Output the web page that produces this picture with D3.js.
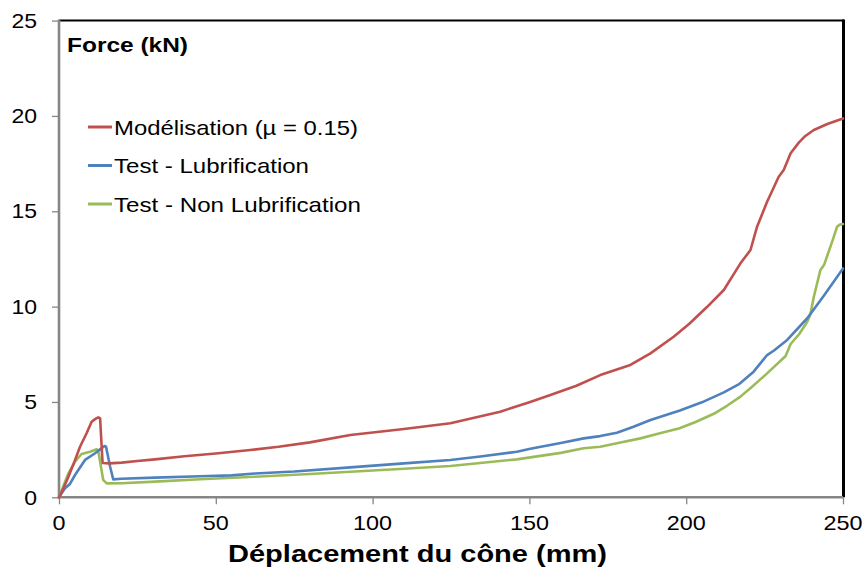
<!DOCTYPE html>
<html>
<head>
<meta charset="utf-8">
<script src="https://cdn.jsdelivr.net/npm/d3@7"></script>
<style>
  html, body { margin: 0; padding: 0; background: #fff; }
  svg { display: block; }
</style>
</head>
<body>
<svg id="chart" width="866" height="571"></svg>
<script>
// ---- Data ----
const seriesNames = ["Modélisation (µ = 0.15)", "Test - Lubrification", "Test - Non Lubrification"];
const seriesColors = ["#C0504D", "#4F81BD", "#9BBB59"];

const modelX = [0, 1.5, 3, 5, 6.7, 8.8, 10.4, 11.5, 12.5, 13.1, 13.9, 16, 20, 25, 30.6, 40, 50, 61, 70, 80, 92.9, 110, 124.8, 140.7, 150, 156.7, 165, 172.6, 182.2, 188.6, 196, 201, 206.7, 212, 217.3, 220.5, 222.6, 225.8, 229.5, 231.1, 233.3, 235.9, 238, 240.7, 245, 250];
const modelY = [0, 0.5, 1.08, 1.9, 2.65, 3.36, 3.96, 4.1, 4.19, 4.15, 1.8, 1.78, 1.82, 1.9, 1.99, 2.15, 2.3, 2.48, 2.65, 2.88, 3.27, 3.58, 3.88, 4.49, 4.99, 5.36, 5.85, 6.41, 6.94, 7.55, 8.42, 9.1, 9.99, 10.87, 12.27, 12.97, 14.19, 15.5, 16.81, 17.16, 18.04, 18.6, 18.95, 19.26, 19.58, 19.87];

const lubX = [0, 1.9, 3.5, 5.1, 8.3, 11.5, 13, 14.5, 15, 16.3, 17.3, 20, 30.6, 45, 55, 62.5, 75, 92.9, 110, 124.8, 135, 146, 150.3, 160, 167.3, 172.6, 177.9, 183.2, 188.6, 198, 205, 212, 217, 221.5, 225.8, 228, 232.2, 238.6, 244, 250];
const lubY = [0, 0.47, 0.7, 1.17, 1.96, 2.31, 2.5, 2.69, 2.65, 1.6, 0.94, 0.97, 1.03, 1.1, 1.15, 1.25, 1.35, 1.57, 1.78, 1.96, 2.15, 2.39, 2.55, 2.85, 3.09, 3.21, 3.39, 3.7, 4.05, 4.55, 4.98, 5.5, 5.95, 6.59, 7.46, 7.7, 8.25, 9.39, 10.6, 12.0];

const nonLubX = [0, 3, 5.1, 7.2, 9.9, 12, 12.5, 14.1, 15.2, 20, 30.6, 45, 62.5, 80, 92.9, 110, 124.8, 146, 160, 167.3, 172.6, 177.9, 185.4, 191, 197.9, 203, 208.8, 213, 217.3, 221, 225.8, 231.7, 233.3, 236, 238.6, 239.6, 240.7, 242.8, 244, 246.9, 248.1, 249, 250];
const nonLubY = [0, 1.26, 1.87, 2.27, 2.39, 2.52, 2.45, 0.91, 0.73, 0.74, 0.82, 0.95, 1.08, 1.22, 1.34, 1.5, 1.64, 1.99, 2.33, 2.57, 2.65, 2.83, 3.09, 3.33, 3.62, 3.95, 4.38, 4.8, 5.28, 5.8, 6.5, 7.41, 8.04, 8.55, 9.21, 9.6, 10.52, 11.92, 12.2, 13.58, 14.19, 14.3, 14.33];

const xTicks = [0, 50, 100, 150, 200, 250];
const yTicks = [0, 5, 10, 15, 20, 25];

const xTitle = "Déplacement du cône (mm)";
const yTitle = "Force (kN)";

// ---- Layout ----
const FONT = "'Liberation Sans', Arimo, Arial, sans-serif";
const svg = d3.select("#chart");
const plot = { left: 59, right: 843, top: 20.6, bottom: 497.3 };

const x = d3.scaleLinear().domain([0, 250]).range([plot.left, plot.right]);
const y = d3.scaleLinear().domain([0, 25]).range([plot.bottom, plot.top]);

function addText(g, tx, ty, str, opts) {
  const t = g.append("g").attr("transform", `translate(${tx},${ty}) scale(${opts.sx || 1},1)`)
    .append("text")
    .attr("x", 0).attr("y", 0)
    .attr("text-anchor", opts.anchor || "start")
    .attr("font-family", FONT)
    .style("font-family", FONT)
    .attr("font-size", opts.size)
    .attr("font-weight", opts.weight || "normal")
    .attr("fill", "#000")
    .text(str);
  if (opts.len) t.attr("textLength", opts.len).attr("lengthAdjust", "spacingAndGlyphs");
  return t;
}

// Plot area border (top and right in black)
svg.append("line").attr("x1", plot.left).attr("x2", plot.right + 1).attr("y1", plot.top).attr("y2", plot.top)
  .attr("stroke", "#000").attr("stroke-width", 2);
svg.append("line").attr("x1", plot.right + 0.5).attr("x2", plot.right + 0.5).attr("y1", plot.top - 1).attr("y2", plot.bottom)
  .attr("stroke", "#000").attr("stroke-width", 3);

// Axes
const xAxis = d3.axisBottom(x).tickValues(xTicks).tickSize(7).tickFormat("");
const yAxis = d3.axisLeft(y).tickValues(yTicks).tickSize(7).tickFormat("");

const gx = svg.append("g").attr("transform", `translate(0,${plot.bottom})`).call(xAxis);
const gy = svg.append("g").attr("transform", `translate(${plot.left},0)`).call(yAxis);
[gx, gy].forEach(g => {
  g.select(".domain").attr("stroke", "#868686").attr("stroke-width", 2.6);
  g.selectAll(".tick line").attr("stroke", "#868686").attr("stroke-width", 1.3);
});
gy.select(".domain").attr("d", `M0,${plot.top - 1}V${plot.bottom + 1}`);
gx.select(".domain").attr("d", `M${plot.left - 1},0H${plot.right}`);

// Tick labels
const labels = svg.append("g");
xTicks.forEach(v => addText(labels, x(v), 530, String(v), { anchor: "middle", size: 20, sx: 1.17 }));
yTicks.forEach(v => addText(labels, 37, y(v) + 7.2, String(v), { anchor: "end", size: 20, sx: 1.15 }));

// Titles
addText(svg, 228, 562, xTitle, { anchor: "start", size: 24, weight: "bold", len: 379 });
addText(svg, 67, 52, yTitle, { anchor: "start", size: 21, weight: "bold", len: 121 });

// Series
const series = [
  { name: seriesNames[0], color: seriesColors[0], xs: modelX, ys: modelY },
  { name: seriesNames[1], color: seriesColors[1], xs: lubX, ys: lubY },
  { name: seriesNames[2], color: seriesColors[2], xs: nonLubX, ys: nonLubY }
];

const line = d3.line().x(d => x(d[0])).y(d => y(d[1]));
const drawOrder = [2, 1, 0];
drawOrder.forEach(i => {
  const s = series[i];
  svg.append("path")
    .datum(d3.zip(s.xs, s.ys))
    .attr("d", line)
    .attr("fill", "none")
    .attr("stroke", s.color)
    .attr("stroke-width", 2.6)
    .attr("stroke-linejoin", "round")
    .attr("stroke-linecap", "round");
});

// Legend
const legendY = [127, 165.5, 204];
const legendLen = [244, 195, 247];
const legend = svg.append("g");
series.forEach((s, i) => {
  legend.append("line")
    .attr("x1", 88).attr("x2", 112)
    .attr("y1", legendY[i]).attr("y2", legendY[i])
    .attr("stroke", s.color).attr("stroke-width", 3);
  addText(legend, 114, legendY[i] + 7.5, s.name, { anchor: "start", size: 21, len: legendLen[i] });
});
</script>
</body>
</html>
